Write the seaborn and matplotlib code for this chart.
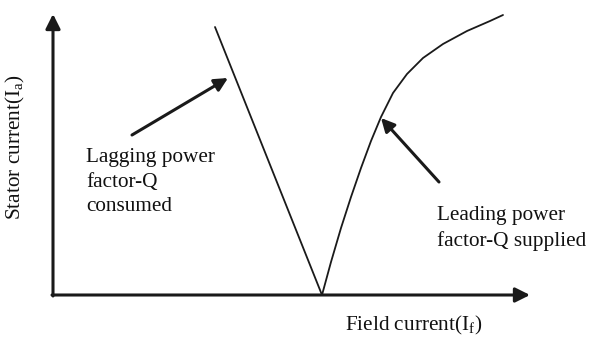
import matplotlib
matplotlib.use('Agg')
import matplotlib.pyplot as plt
import pandas as pd
import seaborn as sns

# V-curve of a synchronous machine, origin of the sketch at the axes corner
lag_if = [162, 269]
lag_ia = [268, 0]
lead_if = [269, 278, 288, 298, 308, 318, 328, 340, 354, 370, 390, 414, 437, 450]
lead_ia = [0, 33, 67, 98, 127, 154, 178, 202, 221, 237, 251, 264, 274, 280]

lag_label = "Lagging power\nfactor-Q\nconsumed"
lead_label = "Leading power\nfactor-Q supplied"
xlabel = "Field current(I$_\\mathrm{f}$)"
ylabel = "Stator current(I$_\\mathrm{a}$)"

sns.set_theme(style="white")
plt.rcParams['font.family'] = ['Liberation Serif', 'DejaVu Serif']
plt.rcParams['mathtext.fontset'] = 'custom'
plt.rcParams['mathtext.rm'] = 'Liberation Serif'

lag = pd.DataFrame({"If": lag_if, "Ia": lag_ia})
lead = pd.DataFrame({"If": lead_if, "Ia": lead_ia})

fig = plt.figure(figsize=(5.95, 3.47), dpi=100)
ax = fig.add_axes([0, 0, 1, 1])
sns.lineplot(data=lag, x="If", y="Ia", ax=ax, color="#1a1a1a", lw=1.3, sort=False)
sns.lineplot(data=lead, x="If", y="Ia", ax=ax, color="#1a1a1a", lw=1.3,
             sort=False, solid_joinstyle='round')

ax.set_xlim(-53, 542)
ax.set_ylim(-52, 295)
ax.axis('off')

# axes drawn as arrows
ax.annotate("", xy=(477, 0), xytext=(-1, 0),
            arrowprops=dict(arrowstyle='-|>', lw=2.2, color='#1a1a1a',
                            mutation_scale=22, shrinkA=0, shrinkB=0))
ax.annotate("", xy=(0, 281), xytext=(0, -1),
            arrowprops=dict(arrowstyle='-|>', lw=2.2, color='#1a1a1a',
                            mutation_scale=22, shrinkA=0, shrinkB=0))

# pointer arrows
ax.annotate("", xy=(175, 217), xytext=(79, 160),
            arrowprops=dict(arrowstyle='-|>', lw=2.2, color='#1a1a1a',
                            mutation_scale=20, shrinkA=0, shrinkB=0))
ax.annotate("", xy=(328, 177), xytext=(386, 113),
            arrowprops=dict(arrowstyle='-|>', lw=2.2, color='#1a1a1a',
                            mutation_scale=20, shrinkA=0, shrinkB=0))

ax.text(33, 147, lag_label, fontsize=15.3, va='top', ha='left',
        linespacing=1.4, color='#111111')
ax.text(384, 89, lead_label, fontsize=15.3, va='top', ha='left',
        linespacing=1.4, color='#111111')

ax.text(361, -30, xlabel, fontsize=15.3, va='center', ha='center', color='#111111')
ax.text(-38, 148, ylabel, fontsize=15.3, va='center', ha='center',
        rotation=90, color='#111111')

fig.savefig("out.png", dpi=100)
